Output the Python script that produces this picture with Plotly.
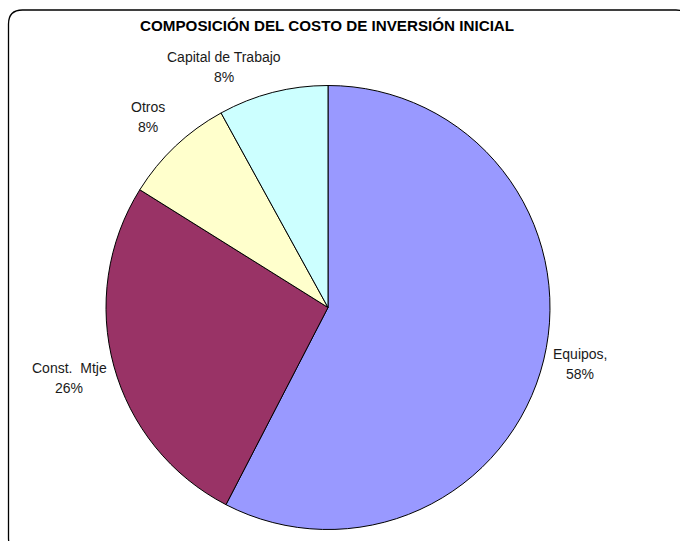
import math
import plotly.graph_objects as go

# Composition of the initial investment cost (%)
labels = ["Equipos", "Const.  Mtje", "Otros", "Capital de Trabajo"]
label_text = ["Equipos,", "Const.  Mtje", "Otros", "Capital de Trabajo"]
values = [57.6, 26.3, 8.1, 8.0]
colors = ["#9999FF", "#993366", "#FFFFCC", "#CCFFFF"]

W, H = 680, 541
FONT = "Liberation Sans, Arial, sans-serif"

# pie geometry in pixels
cx, cy, r = 328, 307.5, 222
label_r = [258, 268, 262, 262]
label_nudge_deg = [-1, 0, 0, -9]

fig = go.Figure(go.Pie(
    labels=labels,
    values=values,
    sort=False,
    direction="clockwise",
    rotation=0,
    marker=dict(colors=colors, line=dict(color="#000000", width=1)),
    textinfo="none",
    hoverinfo="label+percent",
    showlegend=False,
    domain=dict(x=[(cx - r) / W, (cx + r) / W],
                y=[(H - cy - r) / H, (H - cy + r) / H]),
))

annotations = [dict(
    text="<b>COMPOSICIÓN DEL COSTO DE INVERSIÓN INICIAL</b>",
    x=327 / W, y=1 - 25.5 / H, xref="paper", yref="paper",
    showarrow=False, font=dict(family=FONT, size=15.2, color="#000000"),
    xanchor="center", yanchor="middle",
)]

total = sum(values)
cum = 0.0
for name, v, lr, nd in zip(label_text, values, label_r, label_nudge_deg):
    mid = (cum + v / 2) / total * 360 + nd
    cum += v
    lx = cx + lr * math.sin(math.radians(mid))
    ly = cy - lr * math.cos(math.radians(mid))
    pct = f"{round(v / total * 100):.0f}%"
    for txt, dy in ((name.replace("  ", "\u00a0 "), -10), (pct, 10)):
        annotations.append(dict(
            text=txt, x=lx / W, y=1 - (ly + dy) / H, xref="paper", yref="paper",
            showarrow=False, font=dict(family=FONT, size=14, color="#1a1a1a"),
            xanchor="center", yanchor="middle",
        ))

# rounded chart-area frame (right and bottom edges run past the page)
x0, x1, y0, y1, rc = 8.5, 690, 10, 552, 14
def px(x):
    return x / W
def py(y):
    return 1 - y / H
path = (f"M {px(x0 + rc)},{py(y0)} L {px(x1 - rc)},{py(y0)} "
        f"Q {px(x1)},{py(y0)} {px(x1)},{py(y0 + rc)} "
        f"L {px(x1)},{py(y1 - rc)} Q {px(x1)},{py(y1)} {px(x1 - rc)},{py(y1)} "
        f"L {px(x0 + rc)},{py(y1)} Q {px(x0)},{py(y1)} {px(x0)},{py(y1 - rc)} "
        f"L {px(x0)},{py(y0 + rc)} Q {px(x0)},{py(y0)} {px(x0 + rc)},{py(y0)} Z")

fig.update_layout(
    width=W, height=H,
    margin=dict(l=0, r=0, t=0, b=0),
    paper_bgcolor="#FFFFFF",
    plot_bgcolor="#FFFFFF",
    annotations=annotations,
    shapes=[dict(type="path", path=path, xref="paper", yref="paper",
                 line=dict(color="#000000", width=1.3), layer="above")],
)

fig.write_html("out.html")
